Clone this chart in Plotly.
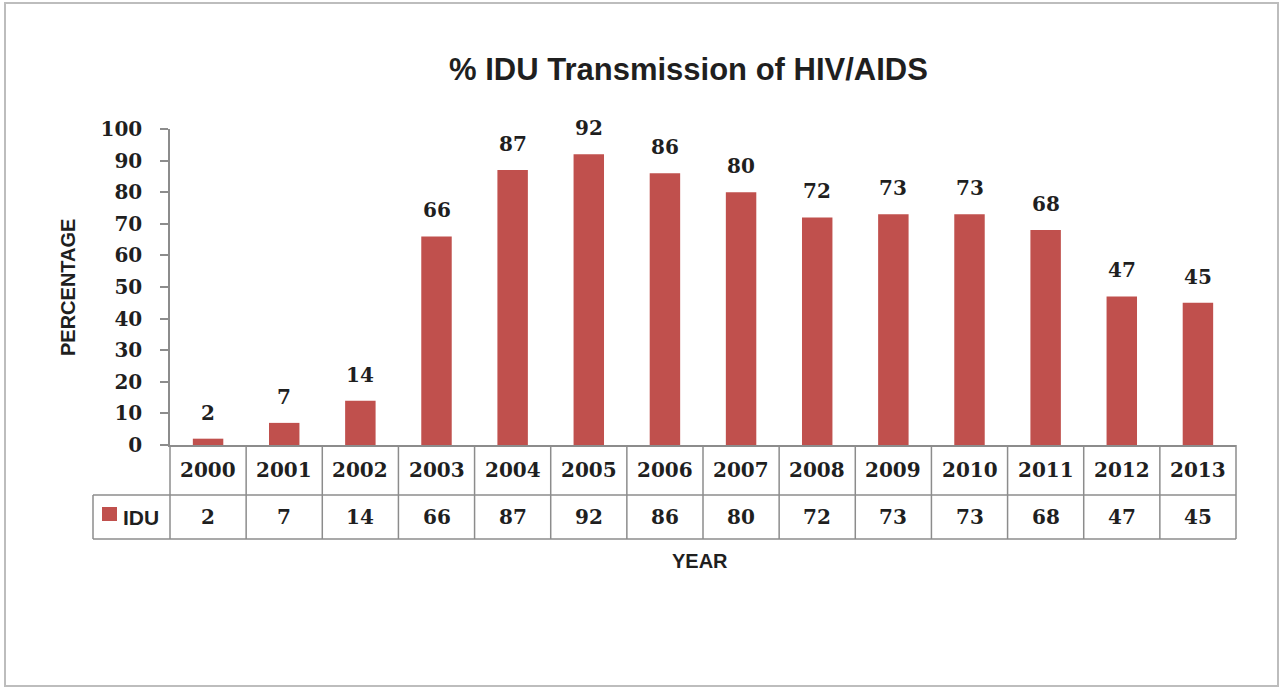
import plotly.graph_objects as go

# Data
years = ["2000", "2001", "2002", "2003", "2004", "2005", "2006",
         "2007", "2008", "2009", "2010", "2011", "2012", "2013"]
idu_pct = [2, 7, 14, 66, 87, 92, 86, 80, 72, 73, 73, 68, 47, 45]
series_name = "IDU"
title_text = "% IDU Transmission of HIV/AIDS"
y_title = "PERCENTAGE"
x_title = "YEAR"
y_ticks = list(range(0, 101, 10))

# Page geometry (pixels)
W, H = 1283, 690
PL, PR = 170, 1236      # plot area left / right
PT, PB = 129, 445       # plot area top (100) / bottom (0)
ROW1, ROW2 = 495, 539   # table row separators
LEG_LEFT = 93

BAR_RED = "#C0504D"
LINE = "#8c8c8c"
TXT = "#1f1f1f"
NUM_FONT = dict(family="DejaVu Serif", size=20, color=TXT, weight="bold")
SANS_BOLD = "Liberation Sans"


def fx(px):
    return (px - PL) / (PR - PL)


def fy(py):
    return (PB - py) / (PB - PT)


fig = go.Figure()
fig.add_trace(go.Bar(
    x=years, y=idu_pct, name=series_name,
    marker=dict(color=BAR_RED, line=dict(width=0)),
    width=0.4, showlegend=False, hoverinfo="x+y",
))

shapes = []
annotations = []
n = len(years)

# Outer chart border
shapes.append(dict(type="rect", xref="paper", yref="paper",
                   x0=fx(5), x1=fx(1278), y0=fy(3), y1=fy(686),
                   line=dict(color="#bdbdbd", width=2), layer="below"))

# Data table grid
for k in range(n + 1):
    shapes.append(dict(type="line", xref="paper", yref="paper",
                       x0=k / n, x1=k / n, y0=fy(PB), y1=fy(ROW2),
                       line=dict(color=LINE, width=1.5)))
for py in (ROW1, ROW2):
    shapes.append(dict(type="line", xref="paper", yref="paper",
                       x0=fx(LEG_LEFT), x1=1, y0=fy(py), y1=fy(py),
                       line=dict(color=LINE, width=1.5)))
shapes.append(dict(type="line", xref="paper", yref="paper",
                   x0=fx(LEG_LEFT), x1=fx(LEG_LEFT), y0=fy(ROW1), y1=fy(ROW2),
                   line=dict(color=LINE, width=1.5)))

# Legend key in the table
shapes.append(dict(type="rect", xref="paper", yref="paper",
                   x0=fx(102), x1=fx(117), y0=fy(507), y1=fy(521),
                   fillcolor=BAR_RED, line=dict(width=0)))
annotations.append(dict(text=series_name, xref="paper", yref="paper",
                        x=fx(121), y=fy((ROW1 + ROW2) / 2),
                        xanchor="left", yanchor="middle", showarrow=False,
                        font=dict(family=SANS_BOLD, size=21, color=TXT, weight="bold")))

# Table rows: years and values (category index positions on the x axis)
for i, (yr, v) in enumerate(zip(years, idu_pct)):
    annotations.append(dict(text=yr, xref="x", yref="paper", x=i,
                            y=fy((PB + ROW1) / 2), yanchor="middle",
                            showarrow=False, font=NUM_FONT))
    annotations.append(dict(text=str(v), xref="x", yref="paper", x=i,
                            y=fy((ROW1 + ROW2) / 2), yanchor="middle",
                            showarrow=False, font=NUM_FONT))
    # value labels above bars
    annotations.append(dict(text=str(v), xref="x", yref="y", x=i, y=v,
                            yanchor="bottom", yshift=12, showarrow=False,
                            font=NUM_FONT))

# Titles
annotations.append(dict(text=title_text, xref="paper", yref="paper",
                        x=fx(688), y=fy(69), xanchor="center", yanchor="middle",
                        showarrow=False,
                        font=dict(family=SANS_BOLD, size=31, color=TXT, weight="bold")))
annotations.append(dict(text=y_title, xref="paper", yref="paper",
                        x=fx(68), y=fy(288), xanchor="center", yanchor="middle",
                        textangle=-90, showarrow=False,
                        font=dict(family=SANS_BOLD, size=20, color=TXT, weight="bold")))
annotations.append(dict(text=x_title, xref="paper", yref="paper",
                        x=fx(700), y=fy(561), xanchor="center", yanchor="middle",
                        showarrow=False,
                        font=dict(family=SANS_BOLD, size=20, color=TXT, weight="bold")))

fig.update_layout(
    width=W, height=H,
    margin=dict(l=PL, r=W - PR, t=PT, b=H - PB, pad=0),
    paper_bgcolor="white", plot_bgcolor="white",
    bargap=0.6,
    shapes=shapes, annotations=annotations,
    xaxis=dict(type="category", range=[-0.5, n - 0.5], showticklabels=False,
               ticks="", showgrid=False, zeroline=False,
               showline=True, linecolor=LINE, linewidth=1.5),
    yaxis=dict(range=[0, 100], tickvals=y_ticks, showgrid=False, zeroline=False,
               showline=True, linecolor=LINE, linewidth=1.5,
               ticks="outside", ticklen=8, tickcolor=LINE, tickwidth=1.5,
               ticklabelstandoff=14, tickfont=NUM_FONT),
)

fig.write_html("out.html")
